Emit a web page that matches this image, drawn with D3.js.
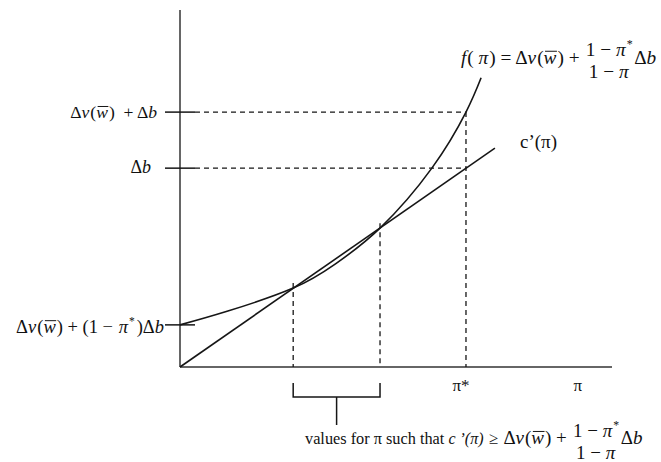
<!DOCTYPE html>
<html><head><meta charset="utf-8">
<script src="https://cdn.jsdelivr.net/npm/d3@7"></script>
<style>
body{margin:0;background:#fff}
svg{display:block}
</style>
</head><body>
<svg id="c" width="661" height="462"></svg>
<script>
// ---- data (abstract units 0..100 on both axes) ----
const cPrimeLine = [[0, 0], [72.9, 61.3]];
const fCurve = [[0, 11.8], [10.9, 15.6], [26.2, 22.1], [36, 28.9], [46.3, 38.9], [58.3, 55.7], [66.2, 71.4], [69.7, 81.0]];
const piStar = 66.2;
const yTickValues = [71.4, 55.7, 11.8];          // Δv(w̄)+Δb, Δb, Δv(w̄)+(1−π*)Δb
const yTickDashed = [true, true, false];
const xTickValues = [66.2, 92.1];
const xTickLabels = ["π*", "π"];
const intervalBounds = [26.2, 46.3];             // where c'(π) crosses f(π)
const intervalTops = [22.1, 38.9];

// label content (rich-text pieces)
const I = (t, o) => ({t, i: 1, o: o ? 1 : 0});
const wbar = [I("w", true)];
const frac = (nu, de) => ({frac: [[{t: "1 − "}, I("π"), {t: "*", sup: 1}], [{t: "1 − "}, I("π")]], nu, de});
const yTickLabels = [
  [{t: "Δ"}, I("v"), {t: "("}, ...wbar, {t: ")  + Δ"}, I("b")],
  [{t: "Δ"}, I("b")],
  [{t: "Δ"}, I("v"), {t: "("}, ...wbar, {t: ") + (1 − ", dx: 1}, I("π"), {t: "*", sup: 1, dx: 2}, {t: ")Δ"}, I("b")]
];
const yTickLabelSizes = [17.6, 18, 18.5];
const topFormula = [I("f"), {t: "( "}, I("π"), {t: ") = Δ"}, I("v"), {t: "("}, ...wbar, {t: ") + "}, frac(-8, 14), {t: "Δ"}, I("b")];
const bottomText = [{t: "values for π such that ", s: 16.3}, {t: "c ’(π)", i: 1, s: 16}, {t: " ≥ ", s: 17}];
const bottomMath = [{t: "Δ"}, I("v"), {t: "("}, ...wbar, {t: ") + "}, frac(-7, 15), {t: "Δ"}, I("b")];
const cPrimeLabel = "c’(π)";

// ---- drawing ----
const svg = d3.select("#c");
const FONT = "'Liberation Serif', 'Times New Roman', 'DejaVu Serif', serif";
const x = d3.scaleLinear().domain([0, 100]).range([180, 612]);
const y = d3.scaleLinear().domain([0, 100]).range([367, 10]);
const ink = "#161616";

function drawParts(g, x0, y0, parts, size) {
  let cx = x0;
  for (const p of parts) {
    if (p.frac) {
      const gn = g.append("g"), gd = g.append("g");
      const wn = drawParts(gn, 0, 0, p.frac[0], size);
      const wd = drawParts(gd, 0, 0, p.frac[1], size);
      const w = Math.max(wn, wd) + 3;
      gn.attr("transform", `translate(${cx + (w - wn) / 2},${y0 + p.nu})`);
      gd.attr("transform", `translate(${cx + (w - wd) / 2},${y0 + p.de})`);
      cx += w;
      continue;
    }
    const base = p.s || size;
    const s = p.sup ? base * 0.62 : base;
    const t = g.append("text").attr("x", cx).attr("y", y0 - (p.sup ? base * 0.42 : 0))
      .attr("font-family", FONT).attr("fill", "#111")
      .attr("font-size", s).style("white-space", "pre").text(p.t);
    if (p.i) t.attr("font-style", "italic");
    const w = t.node().getComputedTextLength();
    if (p.o) g.append("line").attr("x1", cx + 1.5).attr("x2", cx + w + 0.5)
      .attr("y1", y0 - base * 0.66).attr("y2", y0 - base * 0.66)
      .attr("stroke", ink).attr("stroke-width", 1);
    cx += w + (p.i ? 1 : 0) + (p.dx || 0);
  }
  return cx - x0;
}
function label(parts, size, xPos, yPos, anchor) {
  const g = svg.append("g");
  const w = drawParts(g, 0, 0, parts, size);
  const dx = anchor === "end" ? xPos - w : xPos;
  g.attr("transform", `translate(${dx},${yPos})`);
  return w;
}

// axes
svg.append("line").attr("x1", x(0)).attr("x2", x(0)).attr("y1", y(100)).attr("y2", y(0))
  .attr("stroke", "#666").attr("stroke-width", 2);
svg.append("line").attr("x1", x(0)).attr("x2", x(100)).attr("y1", y(0)).attr("y2", y(0))
  .attr("stroke", "#666").attr("stroke-width", 2);

// y ticks + dashed guides
yTickValues.forEach((v, k) => {
  svg.append("line").attr("x1", x(0) - 15).attr("x2", x(0) + 15).attr("y1", y(v)).attr("y2", y(v))
    .attr("stroke", ink).attr("stroke-width", 1.5);
  if (yTickDashed[k]) svg.append("line").attr("x1", x(0) + 15).attr("x2", x(piStar))
    .attr("y1", y(v)).attr("y2", y(v)).attr("stroke", ink).attr("stroke-width", 1.3)
    .attr("stroke-dasharray", "5,4");
});
svg.append("line").attr("x1", x(piStar)).attr("x2", x(piStar)).attr("y1", y(yTickValues[0])).attr("y2", y(0))
  .attr("stroke", ink).attr("stroke-width", 1.3).attr("stroke-dasharray", "5,4");
intervalBounds.forEach((b, k) => {
  svg.append("line").attr("x1", x(b)).attr("x2", x(b)).attr("y1", y(intervalTops[k]) - 5).attr("y2", y(0))
    .attr("stroke", ink).attr("stroke-width", 1.3).attr("stroke-dasharray", "5,4");
});

// c'(π) line and f(π) curve
const line = d3.line().x(d => x(d[0])).y(d => y(d[1]));
svg.append("path").attr("d", line(cPrimeLine)).attr("fill", "none").attr("stroke", ink).attr("stroke-width", 1.6);
svg.append("path").attr("d", line.curve(d3.curveNatural)(fCurve)).attr("fill", "none")
  .attr("stroke", ink).attr("stroke-width", 1.6);

// bracket
const b0 = y(0) + 16, b1 = y(0) + 30, b2 = y(0) + 58;
svg.append("path").attr("d", `M${x(intervalBounds[0])},${b0}V${b1}H${x(intervalBounds[1])}V${b0}`)
  .attr("fill", "none").attr("stroke", ink).attr("stroke-width", 1.5);
const mid = (x(intervalBounds[0]) + x(intervalBounds[1])) / 2;
svg.append("line").attr("x1", mid).attr("x2", mid).attr("y1", b1).attr("y2", b2)
  .attr("stroke", ink).attr("stroke-width", 1.5);

// x tick labels
xTickValues.forEach((v, k) => {
  svg.append("text").attr("x", x(v) - (k === 0 ? 5 : 0)).attr("y", y(0) + 24).attr("text-anchor", "middle")
    .attr("font-family", FONT).attr("fill", "#111").attr("font-size", 17).text(xTickLabels[k]);
});

// y tick labels
const yLabelEnds = [158, 152, 165], yLabelShift = [6, 5, 8];
yTickValues.forEach((v, k) => label(yTickLabels[k], yTickLabelSizes[k], yLabelEnds[k], y(v) + yLabelShift[k], "end"));

// other labels
label(topFormula, 19.3, 461, 64, "start");
svg.append("text").attr("x", 520).attr("y", 148).attr("font-family", FONT).attr("fill", "#111")
  .attr("font-size", 19).text(cPrimeLabel);
const bw = label(bottomText, 16.3, 305, 444, "start");
label(bottomMath, 19, 305 + bw + 1, 444, "start");
</script>
</body></html>
